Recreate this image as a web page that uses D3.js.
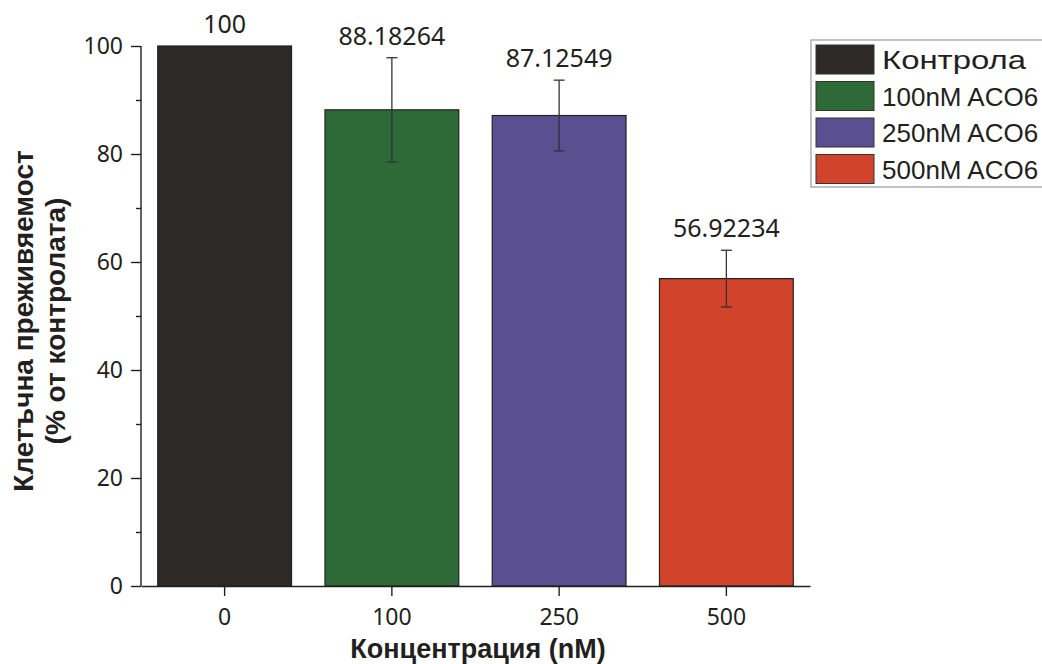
<!DOCTYPE html>
<html>
<head>
<meta charset="utf-8">
<script src="https://cdn.jsdelivr.net/npm/d3@7"></script>
<style>
  body { margin: 0; background: #fff; }
  svg { display: block; }
</style>
</head>
<body>
<svg id="chart" width="1042" height="664"></svg>
<script>
// chart data
const categories = ["0", "100", "250", "500"];
const values = [100, 88.18264, 87.12549, 56.92234];
const errors = [0, 9.65, 6.55, 5.25];
const valueLabels = ["100", "88.18264", "87.12549", "56.92234"];
const legendLabels = ["Контрола", "100nM ACO6", "250nM ACO6", "500nM ACO6"];
const barColors = ["#2d2926", "#2e6a37", "#5a4f90", "#d2432c"];
const yTicks = [0, 20, 40, 60, 80, 100];

const data = categories.map((c, i) => ({
    cat: c, value: values[i], err: errors[i], label: valueLabels[i], color: barColors[i]
}));

const svg = d3.select("#chart");
const numFont = "'Noto Sans', 'Open Sans', sans-serif";
const boldFont = "'Liberation Sans', Arial, sans-serif";

const x = d3.scaleBand().domain(categories).range([141, 810]).paddingInner(0.2).paddingOuter(0.1);
const y = d3.scaleLinear().domain([0, 100]).range([586, 46]);

// bars
svg.selectAll("rect.bar")
    .data(data)
    .enter()
    .append("rect")
    .attr("class", "bar")
    .attr("x", d => x(d.cat))
    .attr("y", d => y(d.value))
    .attr("width", x.bandwidth())
    .attr("height", d => y(0) - y(d.value))
    .attr("fill", d => d.color)
    .attr("stroke", "#222")
    .attr("stroke-width", 1.2);

// error bars
const errG = svg.append("g")
    .attr("stroke", "#333")
    .attr("stroke-width", 1.3)
    .selectAll("g")
    .data(data.filter(d => d.err > 0))
    .enter()
    .append("g")
    .attr("transform", d => `translate(${x(d.cat) + x.bandwidth() / 2},0)`);
errG.append("line")
    .attr("y1", d => y(d.value - d.err))
    .attr("y2", d => y(d.value + d.err));
errG.append("line")
    .attr("x1", -5.5).attr("x2", 5.5)
    .attr("y1", d => y(d.value + d.err))
    .attr("y2", d => y(d.value + d.err));
errG.append("line")
    .attr("x1", -5.5).attr("x2", 5.5)
    .attr("y1", d => y(d.value - d.err))
    .attr("y2", d => y(d.value - d.err));

// value labels
svg.selectAll("text.val")
    .data(data)
    .enter()
    .append("text")
    .attr("class", "val")
    .attr("x", d => x(d.cat) + x.bandwidth() / 2)
    .attr("y", d => y(d.value + d.err) - 13)
    .attr("text-anchor", "middle")
    .attr("font-family", numFont)
    .attr("font-size", 25)
    .attr("fill", "#231f20")
    .text(d => d.label);

// y axis
const yAxis = svg.append("g")
    .attr("transform", "translate(141,0)")
    .call(d3.axisLeft(y).tickValues(yTicks).tickSize(10).tickPadding(8));
svg.append("g")
    .attr("transform", "translate(141,0)")
    .call(d3.axisLeft(y).tickValues(d3.range(10, 100, 20)).tickSize(5).tickFormat(""))
    .select(".domain").remove();

// x axis
const xAxis = svg.append("g")
    .attr("transform", "translate(0,586)")
    .call(d3.axisBottom(x).tickSize(10).tickPadding(8).tickSizeOuter(0));

svg.selectAll(".domain, .tick line")
    .attr("stroke", "#231f20")
    .attr("stroke-width", 1.4);
yAxis.select(".domain").attr("d", "M0,586V46");
svg.selectAll(".tick text")
    .attr("font-family", numFont)
    .attr("font-size", 23)
    .attr("fill", "#231f20");
xAxis.selectAll(".tick text").attr("dy", "0.9em");

// axis titles
svg.append("text")
    .attr("x", 478)
    .attr("y", 658)
    .attr("text-anchor", "middle")
    .attr("font-family", boldFont)
    .attr("font-weight", "bold")
    .attr("font-size", 27)
    .attr("fill", "#231f20")
    .text("Концентрация (nM)");

const yTitle = svg.append("text")
    .attr("transform", "translate(33,321) rotate(-90)")
    .attr("text-anchor", "middle")
    .attr("font-family", boldFont)
    .attr("font-weight", "bold")
    .attr("font-size", 28)
    .attr("fill", "#231f20");
yTitle.append("tspan").attr("x", 0).attr("y", 0).text("Клетъчна преживяемост");
yTitle.append("tspan").attr("x", 0).attr("y", 32).text("(% от контролата)");

// legend
const legend = svg.append("g");
legend.append("rect")
    .attr("x", 811).attr("y", 40)
    .attr("width", 260).attr("height", 147)
    .attr("fill", "#fff")
    .attr("stroke", "#999")
    .attr("stroke-width", 1.2);
const items = legend.selectAll("g.item")
    .data(legendLabels)
    .enter()
    .append("g")
    .attr("transform", (d, i) => `translate(816,${45 + i * 36.5})`);
items.append("rect")
    .attr("width", 58).attr("height", 29)
    .attr("fill", (d, i) => barColors[i])
    .attr("stroke", "#333")
    .attr("stroke-width", 1);
items.append("text")
    .attr("x", 66).attr("y", 24)
    .attr("font-family", "'Liberation Sans', Arial, sans-serif")
    .attr("font-size", 26)
    .attr("fill", "#231f20")
    .text(d => d)
    // the Cyrillic label in the original is set in a wider face
    .filter(d => /[А-я]/.test(d))
    .attr("textLength", 144)
    .attr("lengthAdjust", "spacingAndGlyphs");
</script>
</body>
</html>
